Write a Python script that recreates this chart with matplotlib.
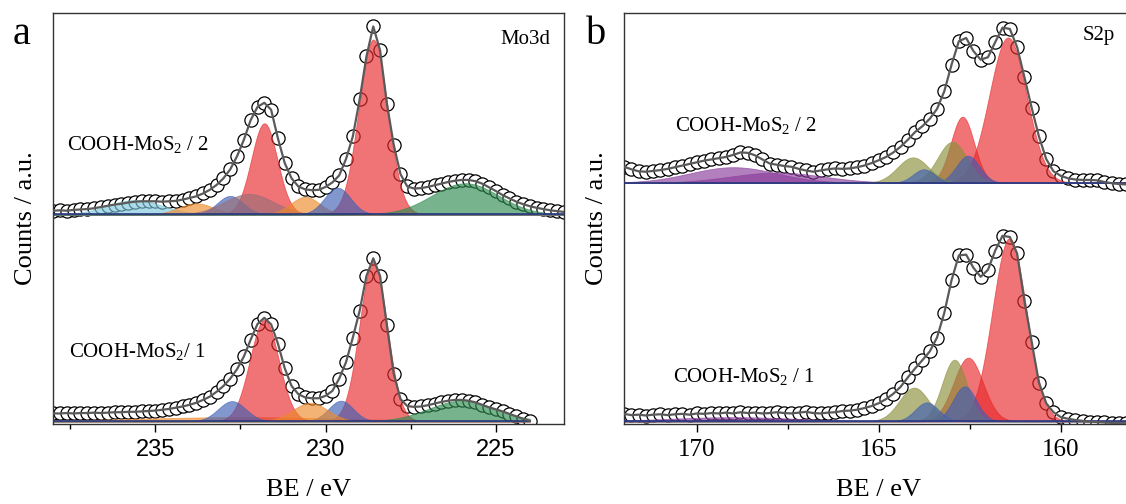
import numpy as np
import matplotlib
matplotlib.use("Agg")
import matplotlib.pyplot as plt

plt.rcParams['font.family'] = ['Liberation Serif', 'DejaVu Serif']
plt.rcParams['mathtext.fontset'] = 'custom'
plt.rcParams['mathtext.rm'] = 'Liberation Serif'
plt.rcParams['mathtext.it'] = 'Liberation Serif:italic'

# ---------------- Mo3d (panel a) ----------------
be_mo_top = np.round(np.arange(238.0, 222.99, -0.2), 1)
mo_top = [0.519, 0.520, 0.519, 0.521, 0.522, 0.523, 0.525, 0.528, 0.531, 0.534,
          0.536, 0.539, 0.541, 0.542, 0.542, 0.542, 0.541, 0.542, 0.543, 0.546,
          0.550, 0.554, 0.561, 0.570, 0.582, 0.598, 0.620, 0.652, 0.692, 0.740,
          0.772, 0.782, 0.765, 0.695, 0.635, 0.598, 0.578, 0.571, 0.569, 0.570,
          0.577, 0.588, 0.605, 0.645, 0.700, 0.790, 0.895, 0.968, 0.910, 0.780,
          0.680, 0.608, 0.578, 0.573, 0.574, 0.577, 0.581, 0.585, 0.589, 0.592,
          0.594, 0.594, 0.591, 0.585, 0.576, 0.567, 0.557, 0.549, 0.541, 0.535,
          0.530, 0.526, 0.523, 0.520, 0.518, 0.516]
mo_top_base = 0.51
mo_top_c = [228.6, 231.8, 235.6, 233.8, 232.8, 232.25, 230.6, 229.65, 225.9]
mo_top_h = [0.426, 0.222, 0.035, 0.027, 0.045, 0.050, 0.043, 0.065, 0.076]
mo_top_w = [1.0, 0.9, 1.9, 1.2, 0.9, 1.7, 1.0, 0.9, 2.3]
mo_top_col = ['red', 'red', 'cyan', 'orange', 'blue', 'mauve', 'orange', 'blue', 'green']

be_mo_bot = np.round(np.arange(238.0, 223.99, -0.2), 1)
mo_bot = [0.025, 0.025, 0.026, 0.025, 0.026, 0.026, 0.027, 0.026, 0.027, 0.028,
          0.028, 0.029, 0.029, 0.030, 0.031, 0.032, 0.034, 0.036, 0.039, 0.042,
          0.046, 0.051, 0.058, 0.066, 0.078, 0.092, 0.110, 0.133, 0.164, 0.205,
          0.243, 0.258, 0.242, 0.195, 0.135, 0.092, 0.072, 0.064, 0.062, 0.062,
          0.068, 0.080, 0.110, 0.150, 0.210, 0.275, 0.360, 0.403, 0.360, 0.240,
          0.122, 0.060, 0.043, 0.041, 0.042, 0.045, 0.049, 0.053, 0.056, 0.058,
          0.058, 0.056, 0.052, 0.046, 0.040, 0.035, 0.030, 0.024, 0.018, 0.012,
          0.007]
mo_bot_base = 0.006
mo_bot_c = [232.5, 228.6, 231.8, 232.75, 229.55, 230.45, 226.0]
mo_bot_h = [0.010, 0.389, 0.247, 0.049, 0.050, 0.045, 0.050]
mo_bot_w = [7.0, 0.95, 1.0, 0.95, 0.85, 1.2, 2.3]
mo_bot_col = ['orange', 'red', 'red', 'blue', 'blue', 'orange', 'green']

# ---------------- S2p (panel b) ----------------
be_s = np.round(np.arange(172.0, 158.19, -0.2), 1)
s_top = [0.626, 0.620, 0.615, 0.614, 0.616, 0.618, 0.621, 0.625, 0.629, 0.633,
         0.637, 0.641, 0.644, 0.647, 0.650, 0.655, 0.661, 0.660, 0.654, 0.644,
         0.634, 0.631, 0.628, 0.626, 0.621, 0.617, 0.614, 0.617, 0.620, 0.622,
         0.621, 0.622, 0.625, 0.629, 0.635, 0.642, 0.650, 0.661, 0.675, 0.692,
         0.711, 0.725, 0.743, 0.767, 0.810, 0.875, 0.932, 0.940, 0.908, 0.887,
         0.893, 0.930, 0.965, 0.962, 0.918, 0.845, 0.770, 0.700, 0.645, 0.615,
         0.604, 0.598, 0.595, 0.594, 0.594, 0.593, 0.589, 0.586, 0.584, 0.583]
s_top_base = 0.587
s_top_c = [169.0, 167.8, 161.45, 162.7, 162.98, 162.55, 164.06, 163.76]
s_top_h = [0.038, 0.025, 0.354, 0.161, 0.100, 0.066, 0.062, 0.033]
s_top_w = [2.8, 3.0, 1.2, 0.75, 0.95, 0.75, 1.0, 0.7]
s_top_col = ['purple', 'purple', 'red', 'red', 'olive', 'blue', 'olive', 'blue']

s_bot = [0.024, 0.021, 0.022, 0.020, 0.022, 0.023, 0.021, 0.023, 0.024, 0.022,
         0.025, 0.024, 0.026, 0.025, 0.027, 0.025, 0.028, 0.026, 0.027, 0.025,
         0.026, 0.028, 0.026, 0.025, 0.027, 0.029, 0.026, 0.025, 0.027, 0.028,
         0.031, 0.032, 0.034, 0.038, 0.043, 0.050, 0.060, 0.073, 0.090, 0.113,
         0.135, 0.155, 0.176, 0.210, 0.270, 0.350, 0.410, 0.412, 0.380, 0.358,
         0.375, 0.422, 0.458, 0.455, 0.415, 0.300, 0.200, 0.100, 0.050, 0.028,
         0.016, 0.012, 0.009, 0.007, 0.005, 0.004, 0.003, 0.002, 0.002, 0.001]
s_bot_base = 0.006
s_bot_c = [169.0, 161.41, 162.54, 162.92, 162.64, 164.03, 163.68]
s_bot_h = [0.010, 0.446, 0.155, 0.150, 0.085, 0.082, 0.046]
s_bot_w = [4.0, 1.1, 0.95, 0.8, 0.75, 0.95, 0.75]
s_bot_col = ['purple', 'red', 'red', 'olive', 'blue', 'olive', 'blue']

palette = {'red': '#e8282c', 'blue': '#3f5fb5', 'orange': '#ee8a2a',
           'green': '#2e8b4f', 'cyan': '#7ec8dc', 'mauve': '#9a6f78',
           'olive': '#8c8f3c', 'purple': '#8a3c9c'}


def draw_spectrum(ax, be, counts, base, cen, hgt, fw, cols, xlo, xhi):
    ax.plot(be, counts, 'o', ms=9.5, mfc='white', mec='black', mew=0.9, zorder=1)
    xx = np.linspace(xlo, xhi, 800)
    for c, h, w, col in zip(cen, hgt, fw, cols):
        g = base + h * np.exp(-4 * np.log(2) * (xx - c) ** 2 / w ** 2)
        ax.fill_between(xx, base, g, color=palette[col], alpha=0.65, lw=0.6, zorder=2)
    ax.plot([xlo, xhi], [base, base], color='#2a3580', lw=1.2, zorder=3)
    ax.plot(be, counts, '-', color='#5a5a5a', lw=1.6, zorder=4)


fig = plt.figure(figsize=(11.26, 5.04), dpi=100)
ax1 = fig.add_axes([0.0473, 0.1593, 0.4535, 0.8143])
ax2 = fig.add_axes([0.5542, 0.1593, 0.4525, 0.8143])

draw_spectrum(ax1, be_mo_top, mo_top, mo_top_base, mo_top_c, mo_top_h, mo_top_w, mo_top_col, 223, 238)
draw_spectrum(ax1, be_mo_bot, mo_bot, mo_bot_base, mo_bot_c, mo_bot_h, mo_bot_w, mo_bot_col, 224, 238)
draw_spectrum(ax2, be_s, s_top, s_top_base, s_top_c, s_top_h, s_top_w, s_top_col, 158, 172)
draw_spectrum(ax2, be_s, s_bot, s_bot_base, s_bot_c, s_bot_h, s_bot_w, s_bot_col, 158, 172)

ax1.set_xlim(238, 223)
ax2.set_xlim(172, 158)
for ax in (ax1, ax2):
    ax.set_ylim(0, 1)
    ax.set_yticks([])
    for s in ax.spines.values():
        s.set_color('#333333')
        s.set_linewidth(1.0)
    ax.tick_params(axis='x', which='major', length=6, width=1, direction='out', pad=5)
    ax.tick_params(axis='x', which='minor', length=3.5, width=1, direction='out')
    ax.set_xlabel('BE / eV', fontsize=19, labelpad=13)

ax1.set_xticks([235, 230, 225])
ax1.set_xticks([237.5, 232.5, 227.5], minor=True)
ax1.set_xticklabels(['235', '230', '225'], family='Liberation Sans', fontsize=17)
ax2.set_xticks([170, 165, 160])
ax2.set_xticks([167.5, 162.5], minor=True)
ax2.set_xticklabels(['170', '165', '160'], fontsize=18)

ax1.text(237.6, 0.68, 'COOH-MoS$_{2}$ / 2', fontsize=15, va='center')
ax1.text(237.55, 0.175, 'COOH-MoS$_{2}$/ 1', fontsize=15, va='center')
ax1.text(223.4, 0.935, 'Mo3d', fontsize=15, ha='right', va='center')
ax2.text(170.6, 0.727, 'COOH-MoS$_{2}$ / 2', fontsize=15, va='center')
ax2.text(170.65, 0.115, 'COOH-MoS$_{2}$ / 1', fontsize=15, va='center')
ax2.text(159.4, 0.945, 'S2p', fontsize=15, ha='left', va='center')

fig.text(26 / 1126, 0.567, 'Counts / a.u.', rotation=90, fontsize=19, ha='center', va='center')
fig.text(597 / 1126, 0.567, 'Counts / a.u.', rotation=90, fontsize=19, ha='center', va='center')
fig.text(22 / 1126, 1 - 35 / 504, 'a', fontsize=29, ha='center', va='center')
fig.text(596 / 1126, 1 - 35 / 504, 'b', fontsize=29, ha='center', va='center')

fig.savefig('out.png', dpi=100)
